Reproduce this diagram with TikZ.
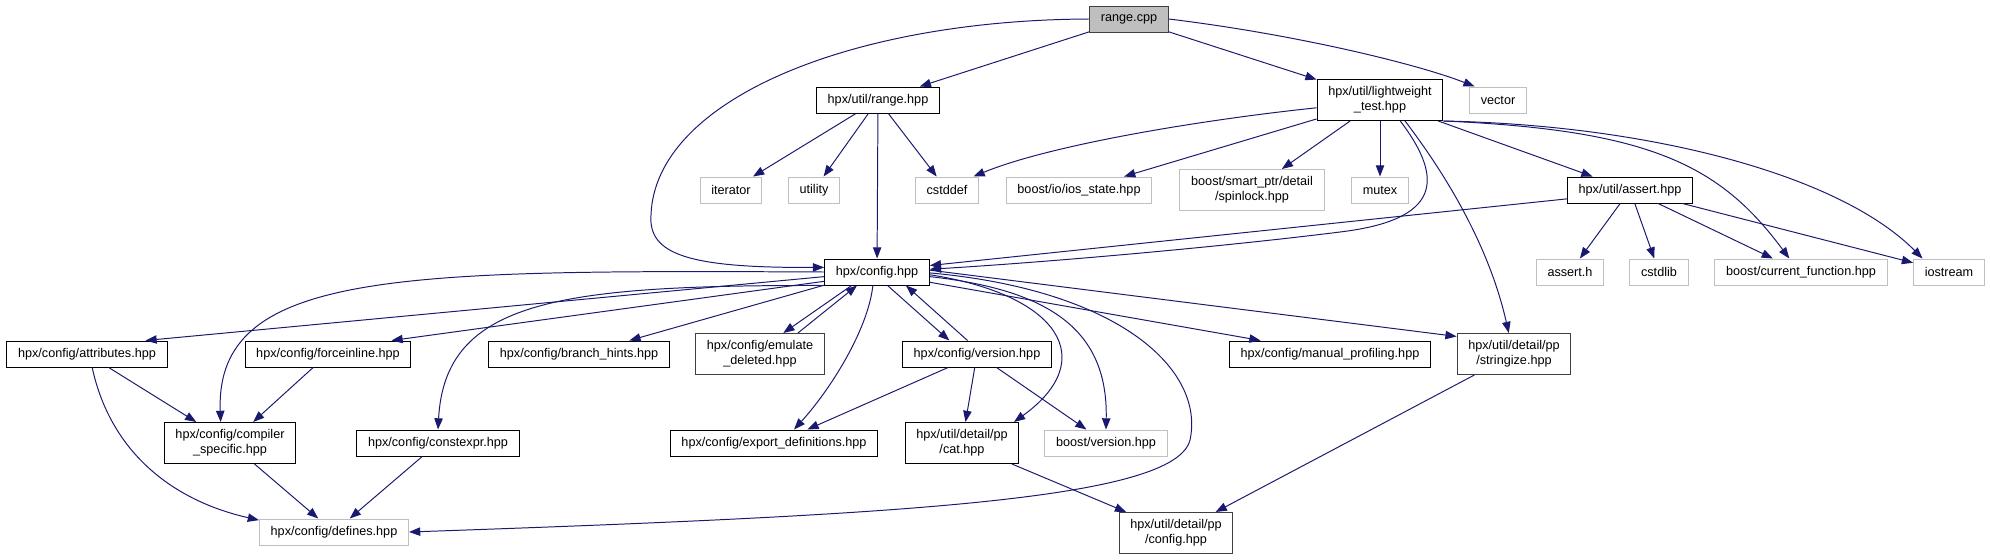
\documentclass[tikz,border=0pt]{standalone}
\usepackage{fontspec}
\setmainfont{Liberation Sans}
\usepackage{tikz}
\usetikzlibrary{arrows.meta}

\definecolor{edgeblue}{HTML}{191970}
\definecolor{grey75}{HTML}{BFBFBF}
\definecolor{grey40}{HTML}{404040}

\begin{document}
\begin{tikzpicture}[
      x=0.025cm, y=-0.025cm,
      font=\fontsize{9}{10.7}\selectfont,
      file/.style={draw=black, fill=white, line width=0.7pt, align=center,
                   inner xsep=0.28cm, inner ysep=1pt, minimum height=0.65cm},
      ext/.style={file, draw=grey75},
      dim/.style={file, draw=grey40},
      root/.style={file, draw=grey40, fill=grey75},
      two/.style={minimum height=1.025cm},
      dep/.style={draw=edgeblue, line width=0.7pt,
                  -{Triangle[length=0.28cm, width=0.21cm]}},
    ]
    \useasboundingbox (0,0) rectangle (1990,559);
    % ── rank 0-2 ──
    \node[root] (rcpp) at (1129,19) {range.cpp};
    \node[file] (rhpp) at (878,100) {hpx/util/range.hpp};
    \node[file, two] (lwt) at (1380,100) {hpx/util/lightweight\\\_test.hpp};
    \node[ext] (vec) at (1498,100) {vector};
    \node[ext] (iter) at (731,190) {iterator};
    \node[ext] (util) at (814,190) {utility};
    \node[ext] (cstdd) at (947,190) {cstddef};
    \node[ext] (iost) at (1079,190) {boost/io/ios\_state.hpp};
    \node[ext, two] (spin) at (1252,190) {boost/smart\_ptr/detail\\/spinlock.hpp};
    \node[ext] (mtx) at (1380,190) {mutex};
    \node[file] (asrt) at (1630,190) {hpx/util/assert.hpp};
    % ── rank 3 ──
    \node[file] (cfg) at (877,272) {hpx/config.hpp};
    \node[ext] (asrth) at (1570,272) {assert.h};
    \node[ext] (cstdl) at (1659,272) {cstdlib};
    \node[ext] (curf) at (1801,272) {boost/current\_function.hpp};
    \node[ext] (iostr) at (1949,272) {iostream};
    % ── rank 4-6 ──
    \node[file] (attr) at (87,354) {hpx/config/attributes.hpp};
    \node[file] (force) at (328,354) {hpx/config/forceinline.hpp};
    \node[file] (brh) at (579,354) {hpx/config/branch\_hints.hpp};
    \node[dim, two] (emu) at (760,354) {hpx/config/emulate\\\_deleted.hpp};
    \node[file] (ver) at (977,354) {hpx/config/version.hpp};
    \node[file] (prof) at (1330,354) {hpx/config/manual\_profiling.hpp};
    \node[dim, two] (strz) at (1514,354) {hpx/util/detail/pp\\/stringize.hpp};
    \node[file, two] (comp) at (230,443) {hpx/config/compiler\\\_specific.hpp};
    \node[file] (cexpr) at (438,443) {hpx/config/constexpr.hpp};
    \node[file] (expd) at (774,443) {hpx/config/export\_definitions.hpp};
    \node[file, two] (cat) at (962,443) {hpx/util/detail/pp\\/cat.hpp};
    \node[ext] (bver) at (1106,443) {boost/version.hpp};
    \node[ext] (defs) at (334,532) {hpx/config/defines.hpp};
    \node[dim, two] (ppcfg) at (1176,533) {hpx/util/detail/pp\\/config.hpp};

    % ── straight includes ──
    \foreach \a/\b in {rcpp/rhpp, rcpp/lwt, rhpp/iter, rhpp/util, rhpp/cstdd, rhpp/cfg,
        lwt/iost, lwt/spin, lwt/mtx, lwt/asrt, asrt/asrth, asrt/cstdl, asrt/curf, asrt/iostr,
        ver/cat, ver/bver, attr/comp, force/comp, comp/defs, cexpr/defs, cat/ppcfg, strz/ppcfg}
      \draw[dep] (\a) -- (\b);
    \draw[dep] (asrt.188) -- (cfg.7);
    \draw[dep] (cfg.185) -- (attr.13);
    \draw[dep] (cfg.190) -- (force.12);
    \draw[dep] (cfg.194) -- (brh.15);
    \draw[dep] (cfg.208) -- (emu.42);
    \draw[dep] (emu.29) -- (cfg.214);
    \draw[dep] (cfg.308) -- (ver.154);
    \draw[dep] (ver.125) -- (cfg.335);
    \draw[dep] (ver.205) -- (expd.22);
    \draw[dep] (cfg.349) -- (prof.169);
    \draw[dep] (cfg.2) -- (strz.163);
    % ── curved includes ──
    \draw[dep] (rcpp.west) .. controls (850,20) and (655,100) .. (651,215)
                           .. controls (648,255) and (690,268) .. (cfg.175);
    \draw[dep] (rcpp.east) .. controls (1300,35) and (1420,65) .. (vec.150);
    \draw[dep] (lwt.187) .. controls (1200,120) and (1050,145) .. (cstdd.27);
    \draw[dep] (lwt.south east) .. controls (1650,130) and (1720,165) .. (curf.131);
    \draw[dep] (lwt.south east) .. controls (1650,125) and (1840,175) .. (iostr.153);
    \draw[dep] (lwt.314) .. controls (1445,180) and (1440,220) .. (1340,232)
                         .. controls (1220,247) and (1050,262) .. (cfg.3);
    \draw[dep] (lwt.320) .. controls (1450,180) and (1490,250) .. (strz.104);
    \draw[dep] (cfg.west) .. controls (400,270) and (215,270) .. (comp.114);
    \draw[dep] (cfg.south west) .. controls (560,285) and (445,300) .. (cexpr.north);
    \draw[dep] (cfg.253) .. controls (868,330) and (830,390) .. (expd.34);
    \draw[dep] (cfg.357) .. controls (1060,295) and (1100,360) .. (cat.22);
    \draw[dep] (cfg.355) .. controls (1050,290) and (1108,330) .. (bver.north);
    \draw[dep] (cfg.359) .. controls (1120,290) and (1205,370) .. (1190,440)
                         .. controls (1175,500) and (900,515) .. (defs.east);
    \draw[dep] (attr.291) .. controls (110,450) and (170,500) .. (defs.171);
  \end{tikzpicture}
\end{document}
